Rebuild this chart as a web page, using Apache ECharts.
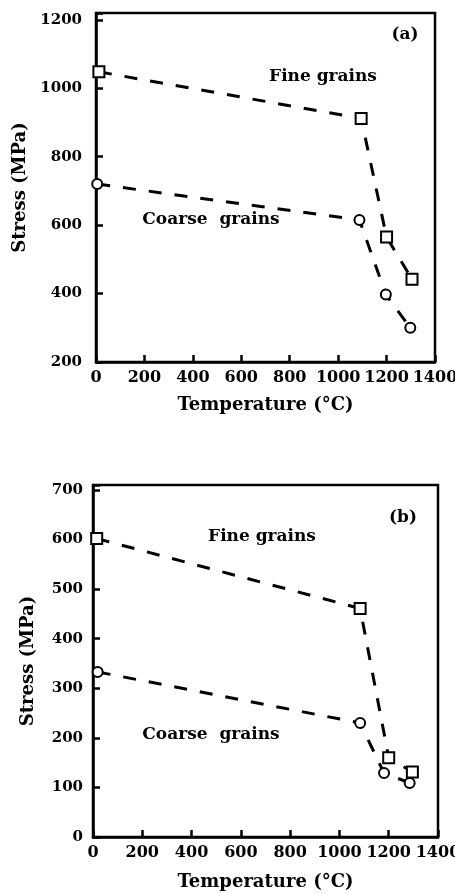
<!DOCTYPE html>
<html>
<head>
<meta charset="utf-8">
<script src="https://cdn.jsdelivr.net/npm/echarts@6/dist/echarts.min.js"></script>
<style>
  html, body { margin: 0; padding: 0; background: #fff; }
  #main { width: 455px; height: 894px; }
</style>
</head>
<body>
<div id="main"></div>
<script>
// panel (a)
const fineTempA = [12, 1095, 1200, 1305]
const fineStressA = [1048, 912, 565, 442]
const coarseTempA = [5, 1088, 1197, 1298]
const coarseStressA = [720, 615, 397, 300]
// panel (b)
const fineTempB = [15, 1084, 1200, 1296]
const fineStressB = [602, 461, 160, 131]
const coarseTempB = [19, 1084, 1181, 1285]
const coarseStressB = [333, 230, 129, 109]

const xTicks = [0, 200, 400, 600, 800, 1000, 1200, 1400]

const FONT = 'DejaVu Serif'

function pairs(xs, ys) {
  return xs.map((x, i) => [x, ys[i]])
}

function xAxisOf(gridIndex, margin) {
  return {
    gridIndex: gridIndex,
    type: 'value',
    min: xTicks[0],
    max: xTicks[xTicks.length - 1],
    interval: 200,
    name: 'Temperature (°C)',
    nameLocation: 'middle',
    nameGap: gridIndex === 0 ? 34 : 36,
    nameTextStyle: { fontFamily: FONT, fontWeight: 'bold', fontSize: 18, color: '#000' },
    axisLine: { show: true, lineStyle: { color: '#000', width: 2.5 } },
    axisTick: { show: true, inside: true, length: 7, lineStyle: { color: '#000', width: 2.5 } },
    axisLabel: {
      fontFamily: FONT, fontWeight: 'bold', fontSize: 16, color: '#000', margin: margin,
      formatter: function(v) { return String(v) }
    },
    splitLine: { show: false }
  }
}

function yAxisOf(gridIndex, min, max, step, margin, gap) {
  return {
    gridIndex: gridIndex,
    type: 'value',
    min: min,
    max: max,
    interval: step,
    name: 'Stress (MPa)',
    nameLocation: 'middle',
    nameGap: gap,
    nameTextStyle: { fontFamily: FONT, fontWeight: 'bold', fontSize: 18, color: '#000' },
    axisLine: { show: true, lineStyle: { color: '#000', width: 2.5 } },
    axisTick: { show: true, inside: true, length: 7, lineStyle: { color: '#000', width: 2.5 } },
    axisLabel: {
      fontFamily: FONT, fontWeight: 'bold', fontSize: 15, color: '#000', margin: margin,
      formatter: function(v) { return v % step === 0 ? String(v) : '' }
    },
    splitLine: { show: false }
  }
}

function curve(name, data, axis, symbol, size, border) {
  return {
    name: name,
    type: 'line',
    xAxisIndex: axis,
    yAxisIndex: axis,
    data: data,
    symbol: symbol,
    symbolSize: size,
    showAllSymbol: true,
    lineStyle: { color: '#000', width: 3, type: [13, 13] },
    itemStyle: { color: '#000', borderColor: '#000', borderWidth: border },
    emphasis: { disabled: true },
    z: 3
  }
}

function label(text, x, y) {
  return {
    type: 'text',
    x: x,
    y: y,
    style: {
      text: text,
      fontFamily: FONT,
      fontWeight: 'bold',
      fontSize: 17,
      fill: '#000',
      textAlign: 'center',
      textVerticalAlign: 'middle'
    }
  }
}

const chart = echarts.init(document.getElementById('main'), null, { renderer: 'canvas' })
chart.setOption({
  backgroundColor: '#fff',
  animation: false,
  grid: [
    { left: 96, right: 20, top: 13, bottom: 532, show: true, borderColor: '#000', borderWidth: 2.5, outerBoundsMode: 'none', containLabel: false },
    { left: 93, right: 17, top: 485, bottom: 57, show: true, borderColor: '#000', borderWidth: 2.5, outerBoundsMode: 'none', containLabel: false }
  ],
  xAxis: [xAxisOf(0, 8), xAxisOf(1, 8)],
  yAxis: [
    yAxisOf(0, 200, 1220, 200, 14, 60),
    yAxisOf(1, 0, 710, 100, 10, 56)
  ],
  series: [
    curve('Fine grains (a)', pairs(fineTempA, fineStressA), 0, 'emptyRect', 11, 2.5),
    curve('Coarse grains (a)', pairs(coarseTempA, coarseStressA), 0, 'emptyCircle', 10, 3.5),
    curve('Fine grains (b)', pairs(fineTempB, fineStressB), 1, 'emptyRect', 11, 2.5),
    curve('Coarse grains (b)', pairs(coarseTempB, coarseStressB), 1, 'emptyCircle', 10, 3.5)
  ],
  graphic: [
    label('(a)', 405, 35),
    label('Fine grains', 323, 77),
    label('Coarse  grains', 211, 220),
    label('(b)', 403, 518),
    label('Fine grains', 262, 537),
    label('Coarse  grains', 211, 735)
  ]
})
</script>
</body>
</html>
